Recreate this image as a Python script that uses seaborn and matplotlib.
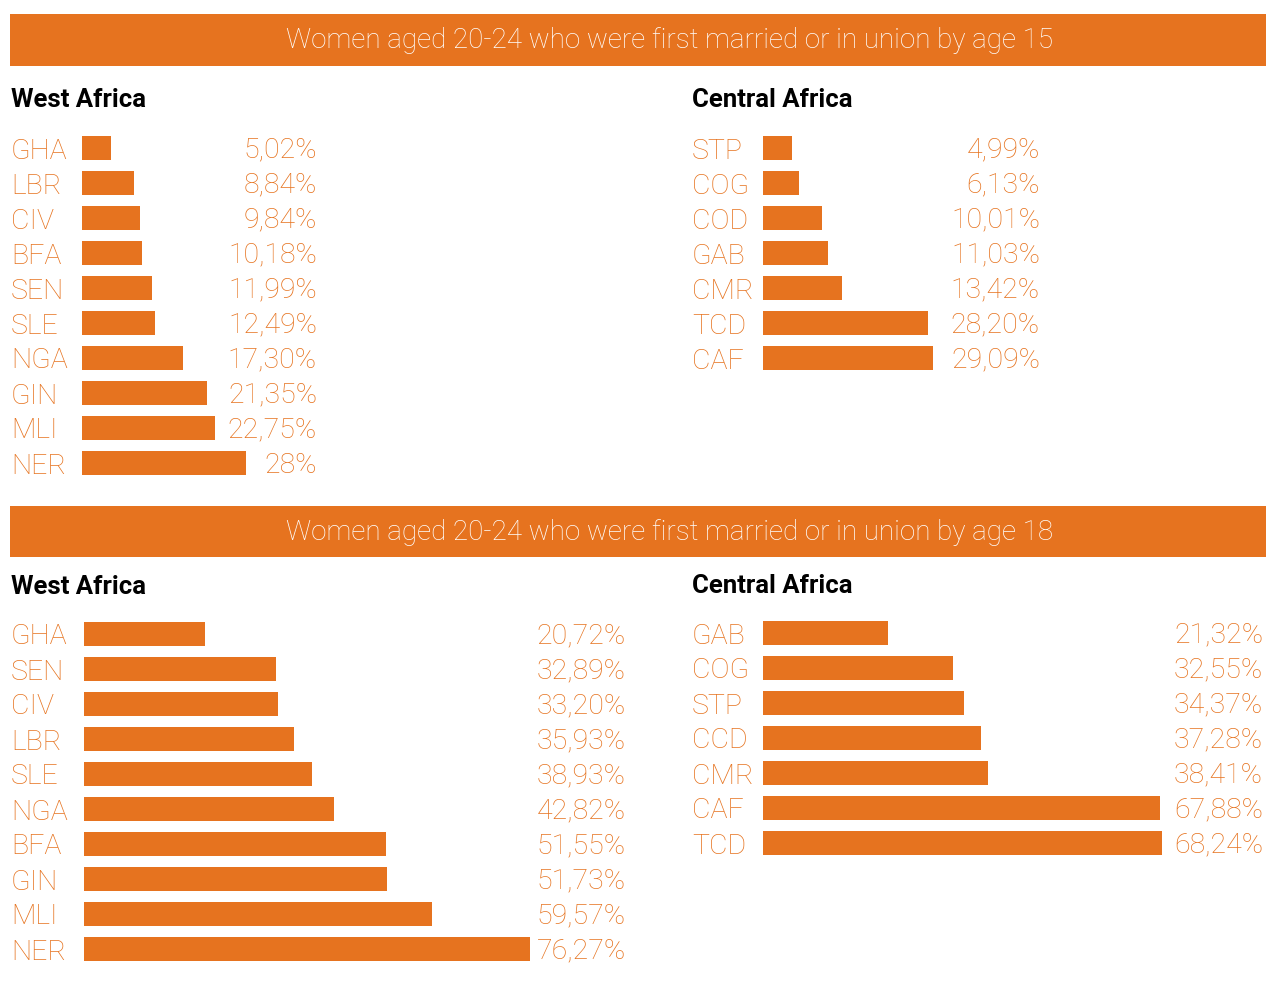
import matplotlib
matplotlib.use("Agg")
import matplotlib.pyplot as plt
import seaborn as sns
import pandas as pd
from matplotlib.patches import Rectangle
from matplotlib.transforms import blended_transform_factory

sns.set_theme(style="white")
plt.rcParams["font.family"] = ["Roboto", "DejaVu Sans"]

ORANGE = "#E6731F"

title15 = "Women aged 20-24 who were first married or in union by age 15"
title18 = "Women aged 20-24 who were first married or in union by age 18"
region_west = "West Africa"
region_central = "Central Africa"

west15_cats = ["GHA", "LBR", "CIV", "BFA", "SEN", "SLE", "NGA", "GIN", "MLI", "NER"]
west15_vals = [5.02, 8.84, 9.84, 10.18, 11.99, 12.49, 17.30, 21.35, 22.75, 28.0]
west15_lbls = ["5,02%", "8,84%", "9,84%", "10,18%", "11,99%", "12,49%", "17,30%", "21,35%", "22,75%", "28%"]

central15_cats = ["STP", "COG", "COD", "GAB", "CMR", "TCD", "CAF"]
central15_vals = [4.99, 6.13, 10.01, 11.03, 13.42, 28.20, 29.09]
central15_lbls = ["4,99%", "6,13%", "10,01%", "11,03%", "13,42%", "28,20%", "29,09%"]

west18_cats = ["GHA", "SEN", "CIV", "LBR", "SLE", "NGA", "BFA", "GIN", "MLI", "NER"]
west18_vals = [20.72, 32.89, 33.20, 35.93, 38.93, 42.82, 51.55, 51.73, 59.57, 76.27]
west18_lbls = ["20,72%", "32,89%", "33,20%", "35,93%", "38,93%", "42,82%", "51,55%", "51,73%", "59,57%", "76,27%"]

central18_cats = ["GAB", "COG", "STP", "CCD", "CMR", "CAF", "TCD"]
central18_vals = [21.32, 32.55, 34.37, 37.28, 38.41, 67.88, 68.24]
central18_lbls = ["21,32%", "32,55%", "34,37%", "37,28%", "38,41%", "67,88%", "68,24%"]

W, H, DPI = 1266, 985, 100
fig = plt.figure(figsize=(W / DPI, H / DPI), dpi=DPI)
fig.patch.set_facecolor("white")

PX_PER_UNIT = 5.85
ROW = 35.0
LABEL_FS = 20.5


def fx(px):
    return px / W


def fy(py):
    return 1 - py / H


def banner(y0, y1, text):
    fig.patches.append(Rectangle((fx(10), fy(y1)), fx(1266 - 10), (y1 - y0) / H,
                                 transform=fig.transFigure, facecolor=ORANGE,
                                 edgecolor="none", zorder=0))
    fig.text(fx(670), fy((y0 + y1) / 2 + 1), text, color="white", fontsize=20,
             fontweight="light", ha="center", va="center")


def panel(cats, vals, lbls, bar_left, label_left, label_right, first_center, width_px):
    n = len(cats)
    top = first_center - ROW / 2
    height = n * ROW
    ax = fig.add_axes([fx(bar_left), fy(top + height), fx(width_px), height / H])
    df = pd.DataFrame({"country": cats, "value": vals})
    sns.barplot(data=df, y="country", x="value", orient="h", color=ORANGE,
                saturation=1, width=0.66, ax=ax)
    for p in ax.patches:
        p.set_edgecolor("none")
    ax.set_xlim(0, width_px / PX_PER_UNIT)
    ax.set_ylim(n - 0.5, -0.5)
    ax.set_xlabel("")
    ax.set_ylabel("")
    ax.set_xticks([])
    sns.despine(ax=ax, left=True, bottom=True)
    ax.tick_params(axis="y", length=0, pad=(bar_left - label_left) * 72 / DPI)
    for t in ax.get_yticklabels():
        t.set_horizontalalignment("left")
        t.set_color(ORANGE)
        t.set_fontsize(LABEL_FS)
        t.set_fontweight("light")
    tr = blended_transform_factory(fig.transFigure, ax.transData)
    for i, s in enumerate(lbls):
        ax.text(fx(label_right), i + 0.06, s, transform=tr, ha="right", va="center",
                color=ORANGE, fontsize=LABEL_FS, fontweight="light", clip_on=False)
    return ax


banner(14, 66, title15)
banner(506, 557, title18)

for (x, y, s) in [(11, 100, region_west), (692, 100, region_central),
                  (11, 587, region_west), (692, 586, region_central)]:
    fig.text(fx(x), fy(y), s, color="black", fontsize=18.5, fontweight="bold",
             ha="left", va="center")

panel(west15_cats, west15_vals, west15_lbls, 82, 11, 317, 148, 180)
panel(central15_cats, central15_vals, central15_lbls, 763, 692, 1040, 148, 180)
panel(west18_cats, west18_vals, west18_lbls, 84, 11, 626, 634, 450)
panel(central18_cats, central18_vals, central18_lbls, 763, 692, 1263, 633, 400)

fig.savefig("out.png", dpi=DPI, facecolor="white")
